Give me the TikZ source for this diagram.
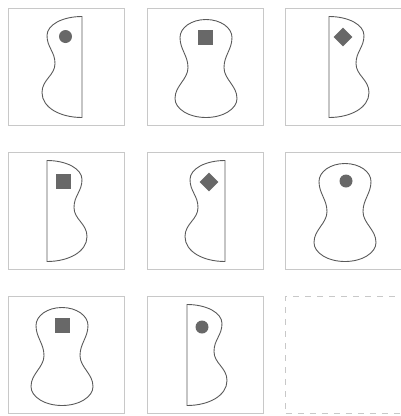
\documentclass[tikz,border=0pt]{standalone}
\usetikzlibrary{shapes.geometric}
\definecolor{boxgray}{HTML}{C8C8C8}
\definecolor{linegray}{HTML}{5A5A5A}
\definecolor{markgray}{HTML}{686868}
\tikzset{
  frame/.style={draw=boxgray, line width=1.1pt, minimum width=116pt, minimum height=117pt, anchor=north west, inner sep=0pt},
  emptyframe/.style={frame, dash pattern=on 6pt off 6pt},
  outline/.style={draw=linegray, line width=0.9pt},
  dotmark/.style={circle, fill=markgray, minimum size=13pt, inner sep=0pt},
  squaremark/.style={rectangle, fill=markgray, minimum size=15pt, inner sep=0pt},
  diamondmark/.style={diamond, fill=markgray, minimum size=19pt, inner sep=0pt},
  fullbody/.pic={
    \draw[outline] (0,12) .. controls (14.3,12) and (26,20) .. (26,30)
      .. controls (26,42) and (18,48) .. (18,60)
      .. controls (18,72) and (31,78) .. (31,91)
      .. controls (31,101.5) and (17,110) .. (0,110)
      .. controls (-17,110) and (-31,101.5) .. (-31,91)
      .. controls (-31,78) and (-18,72) .. (-18,60)
      .. controls (-18,48) and (-26,42) .. (-26,30)
      .. controls (-26,20) and (-14.3,12) .. (0,12) -- cycle;
  },
  halfbody/.pic={
    \draw[outline] (0,9) .. controls (-19,9) and (-35,17) .. (-35,28)
      .. controls (-35,40) and (-27,44) .. (-27,56)
      .. controls (-27,68) and (-40,72) .. (-40,85)
      .. controls (-40,100) and (-22,110) .. (0,110) -- cycle;
  }
}
\begin{document}
\begin{tikzpicture}[x=1pt,y=-1pt]
\useasboundingbox (0,0) rectangle (401,416);
% frames
\node[frame] (b1) at (7.5,7.5) {};
\node[frame] (b2) at (146.5,7.5) {};
\node[frame] (b3) at (285,7.5) {};
\node[frame] (b4) at (7.5,151.5) {};
\node[frame] (b5) at (146.5,151.5) {};
\node[frame] (b6) at (285,151.5) {};
\node[frame] (b7) at (7.5,295.5) {};
\node[frame] (b8) at (146.5,295.5) {};
\node[emptyframe] (b9) at (285,295.5) {};
% bodies
\pic at (82,7.5) {halfbody};
\pic at (206,7.5) {fullbody};
\pic[xscale=-1] at (329,7.5) {halfbody};
\pic[xscale=-1] at (47,151.5) {halfbody};
\pic at (225,151.5) {halfbody};
\pic at (345,151.5) {fullbody};
\pic at (62,295.5) {fullbody};
\pic[xscale=-1] at (187,295.5) {halfbody};
% markers
\node[dotmark] (m1) at (65.5,36.5) {};
\node[squaremark] (m2) at (205.5,37.5) {};
\node[diamondmark] (m3) at (343,37) {};
\node[squaremark] (m4) at (63,181) {};
\node[diamondmark] (m5) at (209,182) {};
\node[dotmark] (m6) at (346,181) {};
\node[squaremark] (m7) at (62.5,325.5) {};
\node[dotmark] (m8) at (202,327) {};
\end{tikzpicture}
\end{document}
